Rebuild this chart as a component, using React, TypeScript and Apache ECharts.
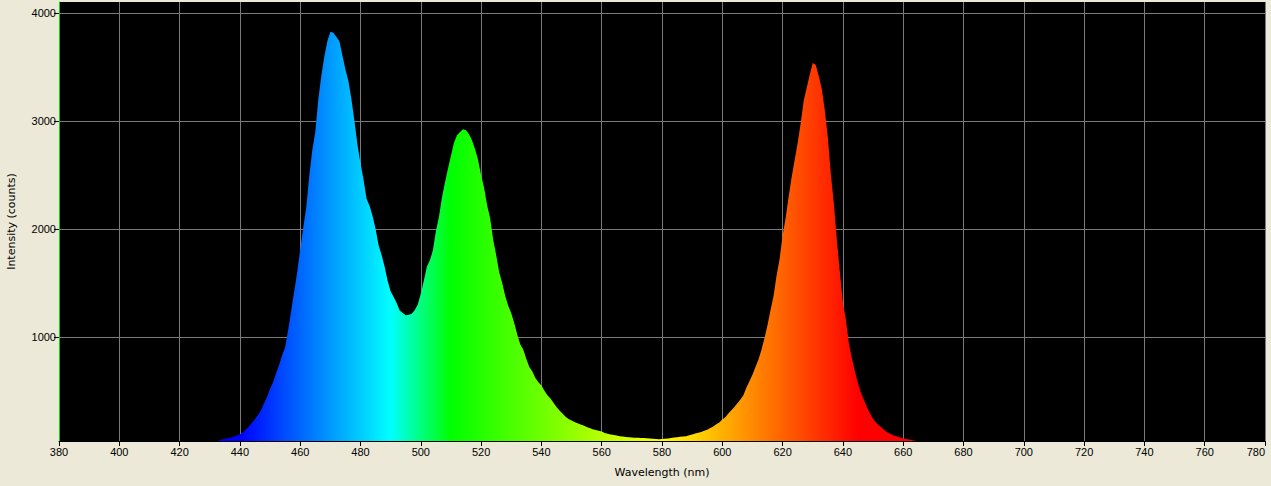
import React, { useEffect, useRef } from "react";
import * as echarts from "echarts";

// Wavelength (nm) and intensity (counts)
const wavelengths: number[] = [
  432, 433, 434, 435, 436, 437, 438, 439, 440, 441, 442, 443, 444, 445, 446, 447, 448, 449,
  450, 451, 452, 453, 454, 455, 456, 457, 458, 459, 460, 461, 462, 463, 464, 465, 466, 467,
  468, 469, 470, 471, 472, 473, 474, 475, 476, 477, 478, 479, 480, 481, 482, 483, 484, 485,
  486, 487, 488, 489, 490, 491, 492, 493, 494, 495, 496, 497, 498, 499, 500, 501, 502, 503,
  504, 505, 506, 507, 508, 509, 510, 511, 512, 513, 514, 515, 516, 517, 518, 519, 520, 521,
  522, 523, 524, 525, 526, 527, 528, 529, 530, 531, 532, 533, 534, 535, 536, 537, 538, 539,
  540, 541, 542, 543, 544, 545, 546, 547, 548, 549, 550, 551, 552, 553, 554, 555, 556, 557,
  558, 559, 560, 561, 562, 563, 564, 565, 566, 567, 568, 569, 570, 571, 572, 573, 574, 575,
  576, 577, 578, 579, 580, 581, 582, 583, 584, 585, 586, 587, 588, 589, 590, 591, 592, 593,
  594, 595, 596, 597, 598, 599, 600, 601, 602, 603, 604, 605, 606, 607, 608, 609, 610, 611,
  612, 613, 614, 615, 616, 617, 618, 619, 620, 621, 622, 623, 624, 625, 626, 627, 628, 629,
  630, 631, 632, 633, 634, 635, 636, 637, 638, 639, 640, 641, 642, 643, 644, 645, 646, 647,
  648, 649, 650, 651, 652, 653, 654, 655, 656, 657, 658, 659, 660, 661, 662, 663, 664, 665,
];

const intensities: number[] = [
  30, 40, 50, 55, 60, 65, 75, 85, 96, 118, 142, 172, 204, 240, 275, 320, 385, 445,
  520, 580, 665, 740, 830, 905, 1065, 1240, 1420, 1600, 1810, 2010, 2200, 2490, 2730, 2900, 3200, 3420,
  3600, 3740, 3830, 3820, 3780, 3740, 3610, 3480, 3370, 3200, 3000, 2780, 2610, 2460, 2280, 2215, 2120, 2000,
  1850, 1760, 1650, 1520, 1420, 1370, 1315, 1245, 1222, 1200, 1205, 1215, 1250, 1300, 1400, 1520, 1650, 1710,
  1800, 1980, 2110, 2290, 2430, 2560, 2680, 2800, 2870, 2900, 2925, 2915, 2880, 2820, 2740, 2640, 2500, 2380,
  2220, 2100, 1900, 1760, 1600, 1500, 1380, 1290, 1220, 1130, 1020, 930, 880, 795, 720, 680, 620, 580,
  550, 500, 460, 430, 390, 350, 318, 290, 260, 240, 225, 212, 200, 188, 178, 165, 155, 145,
  137, 130, 122, 110, 102, 95, 90, 85, 80, 76, 73, 70, 68, 66, 64, 63, 62, 61,
  58, 56, 54, 52, 53, 55, 58, 62, 67, 70, 74, 77, 80, 88, 96, 104, 112, 118,
  130, 140, 155, 170, 190, 207, 235, 255, 290, 320, 350, 385, 420, 460, 530, 590, 650, 720,
  790, 880, 990, 1110, 1250, 1380, 1570, 1720, 1940, 2100, 2300, 2480, 2640, 2800, 2980, 3190, 3310, 3430,
  3540, 3520, 3420, 3300, 3100, 2850, 2510, 2240, 1900, 1600, 1320, 1160, 940, 800, 680, 570, 480, 415,
  345, 290, 240, 205, 178, 155, 130, 112, 98, 84, 76, 68, 60, 54, 48, 42, 38, 32,
];

const xMin = 380;
const xMax = 780;
const yMin = 35;
const yMax = 4105;
const yTicks: number[] = [1000, 2000, 3000, 4000];

const FONT = "Liberation Sans, Arial, sans-serif";
const NAME_FONT = "DejaVu Sans, Verdana, sans-serif";

export default function App() {
  const ref = useRef<HTMLDivElement>(null);

  useEffect(() => {
    if (!ref.current) return;
    const chart = echarts.init(ref.current, undefined, { renderer: "svg" });

    const gridLeft = 59;
    const gridRight = 1265;
    const pxOf = (wl: number) => gridLeft + ((wl - xMin) / (xMax - xMin)) * (gridRight - gridLeft);
    const off = (wl: number) => (wl - xMin) / (xMax - xMin);

    const gradient = new echarts.graphic.LinearGradient(
      pxOf(xMin), 0, pxOf(xMax), 0,
      [
        { offset: 0, color: "#0000ff" },
        { offset: off(440), color: "#0000ff" },
        { offset: off(490), color: "#00ffff" },
        { offset: off(510), color: "#00ff00" },
        { offset: off(580), color: "#ffff00" },
        { offset: off(645), color: "#ff0000" },
        { offset: 1, color: "#ff0000" },
      ],
      true
    );

    const data = wavelengths.map((w, i) => [w, intensities[i]]);

    chart.setOption({
      animation: false,
      backgroundColor: "#ECE9D8",
      textStyle: { fontFamily: FONT },
      grid: {
        left: gridLeft,
        top: 2,
        width: gridRight - gridLeft,
        height: 439,
        show: true,
        backgroundColor: "#000000",
        borderWidth: 0,
        containLabel: false,
        outerBoundsMode: "none",
      },
      xAxis: {
        type: "value",
        min: xMin,
        max: xMax,
        interval: 20,
        name: "Wavelength (nm)",
        nameLocation: "middle",
        nameGap: 26,
        nameTextStyle: { color: "#000", fontSize: 11, fontFamily: NAME_FONT },
        axisLine: { show: true, lineStyle: { color: "#000", width: 1 } },
        axisTick: { show: true, length: 5, lineStyle: { color: "#000" } },
        axisLabel: {
          color: "#000",
          fontSize: 11,
          fontFamily: FONT,
          margin: 5,
          alignMaxLabel: "right",
          formatter: (v: number) => String(v),
        },
        splitLine: { show: true, lineStyle: { color: "#7a7a7a", width: 1 } },
      },
      yAxis: {
        type: "value",
        min: yMin,
        max: yMax,
        name: "Intensity (counts)",
        nameLocation: "middle",
        nameGap: 42,
        nameTextStyle: { color: "#000", fontSize: 11, fontFamily: NAME_FONT },
        axisLine: { show: true, lineStyle: { color: "#00e000", width: 1 } },
        axisTick: {
          show: true,
          length: 5,
          lineStyle: { color: "#000" },
          customValues: yTicks,
        },
        axisLabel: {
          color: "#000",
          fontSize: 11,
          fontFamily: FONT,
          margin: 3,
          customValues: yTicks,
          formatter: (v: number) => String(v),
        },
        splitLine: { show: true, lineStyle: { color: "#7a7a7a", width: 1 } },
      },
      series: [
        {
          type: "line",
          data,
          showSymbol: false,
          symbol: "none",
          clip: true,
          lineStyle: { width: 0, opacity: 0 },
          areaStyle: { color: gradient, opacity: 1, origin: "start" },
          z: 3,
        },
      ],
    });

    return () => chart.dispose();
  }, []);

  return (
    <div
      ref={ref}
      style={{ position: "fixed", left: 0, top: 0, width: 1271, height: 486 }}
    />
  );
}
